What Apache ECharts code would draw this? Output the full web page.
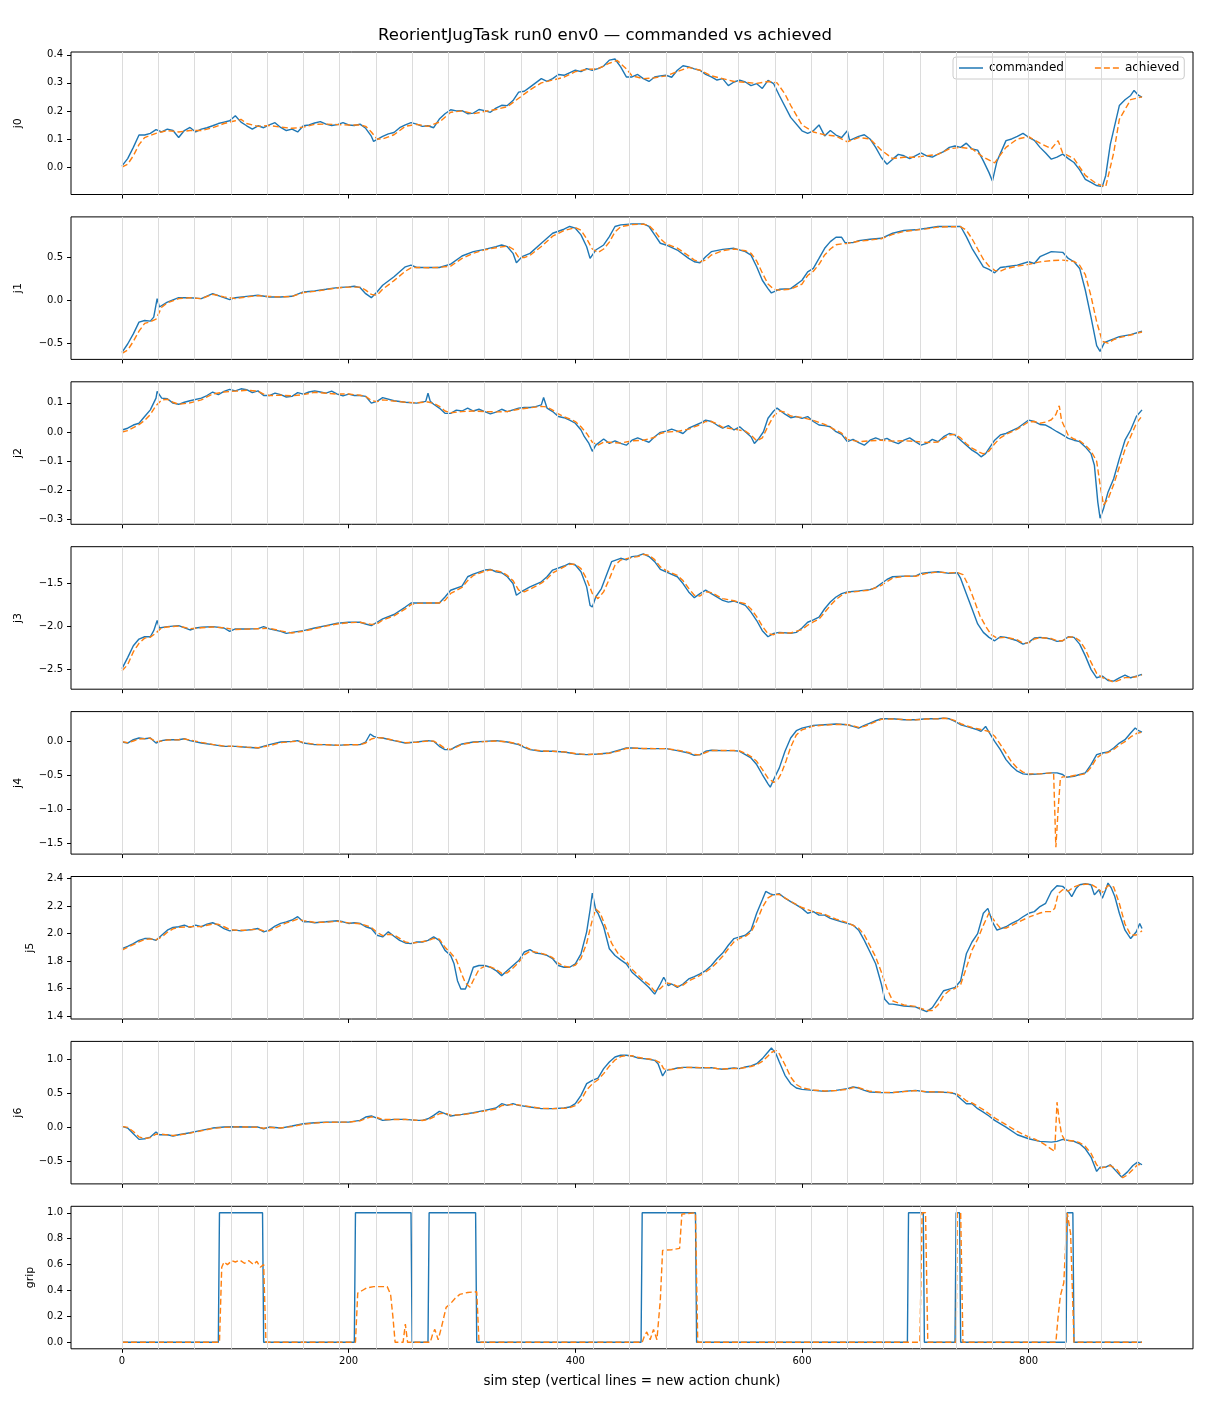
<!DOCTYPE html>
<html>
<head>
<meta charset="utf-8">
<script src="https://cdn.jsdelivr.net/npm/echarts@6/dist/echarts.min.js"></script>
<style>
html, body { margin: 0; padding: 0; background: #fff; }
#chart { width: 1210px; height: 1408px; }
</style>
</head>
<body>
<div id="chart"></div>
<script>
// 数据: [sim step, value]
var xTicks = [0, 200, 400, 600, 800];
// new action chunk starts
var chunkStarts = [0, 32, 64, 96, 128, 160, 192, 224, 256, 288, 320, 352, 384, 416, 448, 480, 512, 544, 576, 608, 640, 672, 704, 736, 768, 800, 832, 864, 896];

var j0Ticks = [-0.1, 0.0, 0.1, 0.2, 0.3, 0.4];
var j1Ticks = [-0.5, 0.0, 0.5];
var j2Ticks = [-0.3, -0.2, -0.1, 0.0, 0.1];
var j3Ticks = [-2.5, -2.0, -1.5];
var j4Ticks = [-1.5, -1.0, -0.5, 0.0];
var j5Ticks = [1.4, 1.6, 1.8, 2.0, 2.2, 2.4];
var j6Ticks = [-0.5, 0.0, 0.5, 1.0];
var gripTicks = [0.0, 0.2, 0.4, 0.6, 0.8, 1.0];

var j0Cmd = [[0,0.004],[5,0.03],[10,0.07],[15,0.114],[20,0.114],[25,0.12],[30,0.133],[35,0.125],[40,0.135],[45,0.13],[50,0.105],[55,0.13],[60,0.141],[65,0.125],[70,0.135],[75,0.14],[80,0.147],[85,0.155],[90,0.16],[95,0.165],[100,0.183],[105,0.16],[110,0.147],[115,0.135],[120,0.147],[125,0.14],[130,0.15],[135,0.158],[140,0.141],[145,0.13],[150,0.135],[155,0.125],[160,0.147],[165,0.15],[170,0.157],[175,0.162],[180,0.153],[185,0.148],[190,0.151],[195,0.158],[200,0.15],[205,0.148],[210,0.153],[215,0.138],[220,0.11],[222,0.091],[230,0.109],[235,0.118],[240,0.123],[245,0.14],[250,0.15],[255,0.158],[260,0.153],[265,0.145],[270,0.147],[275,0.14],[280,0.171],[285,0.19],[290,0.204],[295,0.2],[300,0.201],[305,0.19],[310,0.192],[315,0.205],[320,0.201],[325,0.195],[330,0.21],[335,0.22],[340,0.219],[345,0.237],[350,0.267],[355,0.27],[360,0.285],[370,0.315],[375,0.305],[380,0.315],[385,0.33],[390,0.327],[400,0.345],[405,0.34],[410,0.351],[415,0.345],[420,0.351],[425,0.36],[430,0.381],[435,0.385],[440,0.357],[445,0.321],[450,0.321],[455,0.33],[460,0.315],[465,0.305],[470,0.321],[475,0.325],[480,0.327],[485,0.32],[490,0.345],[495,0.361],[500,0.357],[505,0.35],[510,0.345],[515,0.33],[520,0.321],[525,0.31],[530,0.315],[535,0.29],[540,0.303],[545,0.31],[550,0.303],[555,0.29],[560,0.297],[565,0.28],[570,0.309],[575,0.297],[580,0.255],[590,0.177],[600,0.129],[605,0.12],[610,0.129],[615,0.15],[620,0.111],[625,0.13],[630,0.114],[635,0.105],[640,0.129],[642,0.095],[650,0.109],[655,0.115],[660,0.1],[665,0.07],[670,0.034],[675,0.01],[680,0.028],[685,0.045],[690,0.04],[695,0.03],[700,0.04],[705,0.05],[710,0.04],[715,0.035],[720,0.046],[725,0.055],[730,0.07],[735,0.075],[740,0.07],[745,0.085],[750,0.064],[755,0.06],[760,0.022],[765,-0.02],[768,-0.05],[772,0.02],[780,0.094],[785,0.1],[790,0.109],[795,0.12],[800,0.106],[805,0.095],[810,0.07],[815,0.05],[820,0.028],[825,0.035],[830,0.046],[835,0.03],[840,0.016],[845,-0.01],[850,-0.044],[855,-0.055],[860,-0.066],[865,-0.07],[868,-0.03],[872,0.08],[880,0.219],[885,0.24],[890,0.255],[893,0.273],[897,0.255],[900,0.249]];
var j0Ach = [[0,0.0],[5,0.01],[10,0.04],[15,0.08],[20,0.105],[30,0.12],[40,0.13],[50,0.125],[60,0.13],[70,0.13],[80,0.14],[90,0.155],[100,0.165],[105,0.17],[110,0.155],[120,0.145],[130,0.148],[140,0.142],[150,0.138],[160,0.142],[170,0.152],[180,0.153],[190,0.151],[200,0.15],[210,0.15],[215,0.145],[220,0.125],[225,0.1],[230,0.1],[240,0.115],[250,0.145],[260,0.152],[270,0.145],[280,0.16],[290,0.195],[300,0.2],[310,0.19],[320,0.198],[330,0.205],[340,0.215],[350,0.245],[360,0.275],[370,0.3],[380,0.31],[390,0.32],[400,0.34],[410,0.348],[420,0.35],[430,0.37],[437,0.38],[445,0.35],[450,0.325],[460,0.315],[470,0.318],[480,0.325],[490,0.34],[500,0.355],[510,0.345],[520,0.325],[530,0.315],[540,0.305],[550,0.302],[560,0.298],[570,0.305],[578,0.3],[585,0.26],[590,0.22],[600,0.15],[610,0.125],[620,0.115],[630,0.11],[640,0.09],[650,0.105],[660,0.1],[670,0.06],[680,0.03],[690,0.035],[700,0.035],[710,0.04],[720,0.045],[730,0.065],[740,0.07],[750,0.065],[760,0.035],[770,0.015],[780,0.07],[790,0.1],[800,0.108],[810,0.085],[820,0.065],[826,0.094],[830,0.05],[840,0.03],[850,-0.03],[860,-0.06],[868,-0.07],[875,0.05],[880,0.17],[890,0.24],[900,0.25]];

var j1Cmd = [[0,-0.608],[5,-0.51],[10,-0.392],[15,-0.255],[20,-0.235],[25,-0.243],[28,-0.196],[31,0.02],[33,-0.078],[40,-0.02],[50,0.031],[60,0.031],[70,0.02],[80,0.078],[90,0.031],[95,0.008],[100,0.031],[110,0.047],[120,0.059],[130,0.039],[140,0.039],[150,0.047],[160,0.098],[170,0.11],[180,0.129],[190,0.149],[200,0.157],[205,0.165],[210,0.149],[215,0.078],[220,0.031],[225,0.098],[230,0.176],[240,0.275],[250,0.392],[255,0.412],[260,0.384],[270,0.384],[280,0.384],[290,0.424],[300,0.518],[310,0.569],[320,0.596],[330,0.627],[335,0.647],[340,0.627],[345,0.549],[348,0.439],[353,0.51],[360,0.549],[370,0.667],[380,0.784],[390,0.831],[395,0.863],[400,0.843],[405,0.765],[410,0.627],[413,0.49],[418,0.588],[425,0.647],[430,0.745],[435,0.863],[440,0.882],[450,0.894],[460,0.894],[465,0.863],[470,0.765],[475,0.667],[480,0.647],[490,0.588],[500,0.49],[505,0.451],[510,0.439],[515,0.51],[520,0.569],[530,0.596],[540,0.608],[550,0.569],[555,0.529],[560,0.392],[565,0.235],[570,0.137],[573,0.086],[580,0.129],[590,0.137],[600,0.235],[605,0.333],[610,0.373],[615,0.49],[620,0.608],[625,0.686],[630,0.737],[635,0.737],[638,0.675],[645,0.675],[650,0.698],[660,0.714],[670,0.725],[680,0.784],[690,0.816],[700,0.824],[710,0.843],[720,0.863],[730,0.863],[740,0.863],[745,0.745],[750,0.608],[760,0.392],[765,0.361],[770,0.322],[775,0.384],[780,0.392],[790,0.412],[800,0.451],[805,0.431],[810,0.51],[820,0.569],[830,0.561],[835,0.49],[840,0.451],[845,0.373],[850,0.118],[855,-0.196],[860,-0.529],[863,-0.596],[867,-0.49],[875,-0.451],[880,-0.424],[890,-0.4],[900,-0.361]];
var j1Ach = [[0,-0.62],[5,-0.58],[10,-0.48],[15,-0.36],[20,-0.27],[25,-0.25],[30,-0.22],[35,-0.08],[40,-0.03],[50,0.02],[60,0.03],[70,0.02],[80,0.07],[90,0.04],[100,0.02],[110,0.04],[120,0.055],[130,0.045],[140,0.04],[150,0.045],[160,0.09],[170,0.105],[180,0.125],[190,0.145],[200,0.155],[210,0.155],[215,0.12],[220,0.07],[225,0.06],[230,0.13],[240,0.23],[250,0.34],[255,0.38],[260,0.385],[270,0.38],[280,0.385],[290,0.4],[300,0.49],[310,0.55],[320,0.59],[330,0.615],[340,0.635],[345,0.6],[350,0.5],[355,0.5],[360,0.525],[370,0.63],[380,0.75],[390,0.815],[400,0.85],[405,0.82],[410,0.72],[415,0.6],[420,0.56],[425,0.6],[430,0.68],[435,0.8],[440,0.86],[450,0.885],[460,0.89],[465,0.875],[470,0.81],[475,0.72],[480,0.66],[490,0.61],[500,0.52],[505,0.47],[510,0.45],[515,0.47],[520,0.53],[530,0.58],[540,0.6],[550,0.58],[555,0.55],[560,0.46],[565,0.32],[570,0.19],[575,0.13],[580,0.12],[590,0.13],[600,0.19],[605,0.29],[610,0.34],[615,0.42],[620,0.53],[625,0.6],[630,0.65],[635,0.66],[640,0.665],[650,0.69],[660,0.705],[670,0.72],[680,0.77],[690,0.805],[700,0.82],[710,0.835],[720,0.855],[730,0.86],[740,0.86],[745,0.82],[750,0.72],[755,0.6],[760,0.48],[765,0.4],[770,0.35],[775,0.34],[780,0.37],[790,0.4],[800,0.42],[810,0.45],[820,0.465],[830,0.47],[840,0.455],[845,0.41],[850,0.3],[855,0.05],[860,-0.25],[865,-0.48],[870,-0.5],[875,-0.46],[880,-0.435],[890,-0.405],[900,-0.37]];

var j2Cmd = [[0,0.007],[5,0.013],[10,0.024],[15,0.03],[20,0.053],[25,0.076],[30,0.116],[31,0.139],[35,0.116],[40,0.114],[45,0.099],[50,0.095],[55,0.102],[60,0.107],[70,0.116],[75,0.125],[80,0.137],[85,0.128],[90,0.139],[95,0.146],[100,0.141],[105,0.148],[110,0.145],[115,0.135],[120,0.141],[125,0.125],[130,0.125],[135,0.133],[140,0.128],[145,0.12],[150,0.122],[155,0.135],[160,0.13],[165,0.137],[170,0.141],[175,0.137],[180,0.133],[185,0.14],[190,0.13],[195,0.124],[200,0.13],[205,0.125],[210,0.125],[215,0.122],[220,0.099],[225,0.105],[230,0.118],[240,0.107],[250,0.102],[260,0.099],[268,0.105],[270,0.133],[272,0.105],[275,0.095],[280,0.082],[285,0.064],[290,0.064],[295,0.075],[300,0.072],[305,0.082],[310,0.072],[315,0.078],[320,0.07],[325,0.062],[330,0.068],[335,0.078],[340,0.07],[345,0.076],[350,0.082],[355,0.084],[360,0.084],[365,0.087],[370,0.093],[372,0.118],[375,0.082],[380,0.07],[385,0.053],[390,0.049],[395,0.041],[400,0.03],[405,0.007],[408,-0.016],[412,-0.039],[415,-0.066],[418,-0.045],[425,-0.024],[430,-0.039],[435,-0.03],[440,-0.039],[445,-0.045],[450,-0.028],[455,-0.02],[460,-0.028],[465,-0.035],[470,-0.016],[475,-0.001],[480,0.003],[485,0.01],[490,0.003],[495,-0.005],[500,0.013],[510,0.03],[515,0.041],[520,0.036],[525,0.024],[530,0.013],[535,0.022],[540,0.007],[545,0.018],[550,0.001],[555,-0.016],[558,-0.039],[562,-0.022],[566,0.001],[570,0.047],[575,0.072],[578,0.082],[585,0.061],[590,0.049],[595,0.053],[600,0.047],[605,0.053],[610,0.036],[615,0.024],[620,0.022],[625,0.018],[630,0.001],[635,-0.008],[640,-0.033],[645,-0.025],[650,-0.036],[655,-0.045],[660,-0.028],[665,-0.02],[670,-0.028],[675,-0.022],[680,-0.033],[685,-0.04],[690,-0.028],[695,-0.02],[700,-0.033],[705,-0.045],[710,-0.039],[715,-0.025],[720,-0.033],[725,-0.016],[730,-0.005],[735,-0.01],[740,-0.028],[745,-0.045],[750,-0.062],[755,-0.074],[758,-0.085],[762,-0.074],[770,-0.028],[775,-0.01],[780,-0.005],[790,0.013],[800,0.041],[805,0.036],[810,0.026],[815,0.024],[820,0.013],[825,0.001],[830,-0.01],[835,-0.022],[840,-0.028],[845,-0.033],[850,-0.051],[855,-0.074],[858,-0.114],[861,-0.24],[863,-0.295],[866,-0.263],[870,-0.206],[875,-0.16],[880,-0.091],[885,-0.028],[890,0.007],[895,0.053],[900,0.076]];
var j2Ach = [[0,0.0],[5,0.005],[10,0.015],[15,0.025],[20,0.04],[25,0.06],[30,0.09],[35,0.11],[40,0.112],[45,0.102],[50,0.095],[60,0.1],[70,0.11],[80,0.13],[90,0.137],[100,0.14],[110,0.143],[120,0.14],[125,0.13],[130,0.125],[140,0.126],[150,0.124],[160,0.128],[170,0.136],[180,0.133],[190,0.13],[200,0.13],[210,0.126],[215,0.122],[220,0.108],[225,0.104],[230,0.11],[240,0.106],[250,0.102],[260,0.1],[270,0.103],[275,0.098],[280,0.088],[285,0.072],[290,0.066],[300,0.07],[310,0.072],[320,0.07],[330,0.069],[340,0.07],[350,0.078],[360,0.083],[370,0.088],[375,0.086],[380,0.075],[385,0.062],[390,0.052],[395,0.045],[400,0.036],[405,0.018],[410,-0.005],[415,-0.035],[420,-0.045],[425,-0.035],[430,-0.035],[440,-0.038],[450,-0.03],[460,-0.028],[470,-0.018],[475,-0.005],[480,0.0],[490,0.002],[500,0.01],[510,0.025],[515,0.036],[520,0.036],[525,0.028],[530,0.016],[540,0.01],[550,0.003],[555,-0.01],[560,-0.03],[565,-0.02],[570,0.02],[575,0.055],[580,0.072],[585,0.068],[590,0.055],[600,0.05],[610,0.04],[620,0.026],[630,0.006],[635,-0.004],[640,-0.025],[650,-0.033],[660,-0.03],[670,-0.028],[680,-0.031],[690,-0.03],[700,-0.032],[710,-0.036],[720,-0.034],[725,-0.022],[730,-0.01],[735,-0.008],[740,-0.02],[745,-0.04],[750,-0.055],[755,-0.066],[760,-0.075],[765,-0.065],[770,-0.04],[775,-0.02],[780,-0.008],[790,0.01],[800,0.035],[805,0.036],[810,0.03],[815,0.034],[820,0.042],[824,0.06],[827,0.09],[829,0.04],[835,-0.012],[840,-0.024],[845,-0.03],[850,-0.045],[855,-0.065],[860,-0.1],[863,-0.18],[866,-0.25],[870,-0.23],[875,-0.18],[880,-0.12],[885,-0.06],[890,-0.015],[895,0.03],[900,0.055]];

var j3Cmd = [[0,-2.496],[5,-2.367],[10,-2.229],[15,-2.151],[20,-2.124],[25,-2.124],[28,-2.053],[31,-1.935],[33,-2.022],[40,-2.006],[50,-1.994],[60,-2.045],[65,-2.022],[70,-2.014],[80,-2.006],[90,-2.022],[95,-2.061],[100,-2.033],[110,-2.033],[120,-2.029],[125,-2.006],[130,-2.033],[140,-2.061],[145,-2.084],[150,-2.073],[160,-2.053],[170,-2.022],[180,-1.994],[190,-1.967],[200,-1.955],[210,-1.955],[215,-1.975],[220,-1.994],[225,-1.955],[230,-1.916],[240,-1.865],[250,-1.778],[255,-1.731],[260,-1.731],[270,-1.731],[280,-1.731],[285,-1.661],[290,-1.582],[300,-1.535],[305,-1.425],[310,-1.394],[320,-1.347],[325,-1.339],[330,-1.367],[335,-1.378],[340,-1.425],[345,-1.504],[348,-1.641],[352,-1.602],[360,-1.543],[370,-1.484],[375,-1.425],[380,-1.347],[390,-1.3],[395,-1.269],[400,-1.288],[405,-1.367],[410,-1.543],[413,-1.759],[415,-1.778],[418,-1.661],[423,-1.563],[428,-1.386],[432,-1.249],[440,-1.21],[445,-1.229],[450,-1.19],[455,-1.182],[460,-1.159],[465,-1.19],[470,-1.249],[475,-1.339],[480,-1.367],[490,-1.425],[495,-1.504],[500,-1.602],[505,-1.669],[510,-1.622],[515,-1.582],[520,-1.622],[530,-1.7],[535,-1.72],[540,-1.708],[545,-1.731],[550,-1.759],[555,-1.837],[560,-1.935],[565,-2.053],[570,-2.124],[575,-2.084],[580,-2.073],[590,-2.084],[595,-2.073],[600,-2.022],[605,-1.955],[610,-1.927],[615,-1.896],[620,-1.798],[625,-1.72],[630,-1.661],[635,-1.622],[640,-1.602],[650,-1.59],[660,-1.575],[665,-1.551],[670,-1.504],[675,-1.457],[680,-1.425],[690,-1.418],[700,-1.418],[705,-1.386],[710,-1.378],[720,-1.367],[730,-1.386],[737,-1.378],[740,-1.445],[745,-1.622],[750,-1.798],[755,-1.975],[760,-2.073],[765,-2.131],[770,-2.171],[775,-2.124],[780,-2.131],[790,-2.171],[795,-2.21],[800,-2.19],[805,-2.139],[810,-2.131],[815,-2.139],[820,-2.151],[825,-2.178],[830,-2.171],[835,-2.124],[840,-2.131],[845,-2.21],[850,-2.347],[855,-2.504],[860,-2.602],[865,-2.582],[870,-2.633],[875,-2.641],[880,-2.602],[885,-2.571],[890,-2.602],[895,-2.582],[900,-2.563]];
var j3Ach = [[0,-2.52],[5,-2.45],[10,-2.3],[15,-2.2],[20,-2.14],[25,-2.13],[30,-2.08],[35,-2.02],[40,-2.01],[50,-2.0],[60,-2.03],[70,-2.02],[80,-2.01],[90,-2.02],[100,-2.04],[110,-2.035],[120,-2.03],[130,-2.025],[140,-2.055],[150,-2.08],[160,-2.06],[170,-2.03],[180,-2.0],[190,-1.975],[200,-1.96],[210,-1.955],[220,-1.98],[225,-1.975],[230,-1.93],[240,-1.88],[250,-1.8],[255,-1.75],[260,-1.735],[270,-1.73],[280,-1.73],[285,-1.7],[290,-1.62],[300,-1.55],[305,-1.47],[310,-1.41],[320,-1.36],[325,-1.345],[330,-1.355],[335,-1.37],[340,-1.41],[345,-1.47],[350,-1.58],[355,-1.6],[360,-1.57],[370,-1.5],[375,-1.45],[380,-1.38],[390,-1.31],[395,-1.28],[400,-1.28],[405,-1.33],[410,-1.45],[415,-1.62],[420,-1.68],[425,-1.6],[430,-1.45],[435,-1.29],[440,-1.23],[450,-1.2],[455,-1.19],[460,-1.165],[465,-1.175],[470,-1.225],[475,-1.31],[480,-1.35],[490,-1.41],[495,-1.47],[500,-1.56],[505,-1.64],[510,-1.65],[515,-1.6],[520,-1.61],[530,-1.68],[540,-1.705],[550,-1.74],[555,-1.8],[560,-1.89],[565,-2.0],[570,-2.09],[575,-2.1],[580,-2.08],[590,-2.08],[600,-2.04],[605,-1.99],[610,-1.95],[615,-1.92],[620,-1.84],[625,-1.76],[630,-1.69],[635,-1.64],[640,-1.61],[650,-1.595],[660,-1.58],[670,-1.525],[680,-1.44],[690,-1.42],[700,-1.42],[710,-1.385],[720,-1.37],[730,-1.38],[737,-1.375],[742,-1.4],[747,-1.53],[752,-1.7],[757,-1.88],[762,-2.0],[767,-2.1],[772,-2.14],[780,-2.13],[790,-2.16],[795,-2.2],[800,-2.195],[805,-2.15],[810,-2.135],[820,-2.145],[825,-2.17],[830,-2.17],[835,-2.13],[840,-2.125],[845,-2.17],[850,-2.27],[855,-2.42],[860,-2.55],[865,-2.6],[870,-2.62],[875,-2.655],[880,-2.63],[885,-2.6],[890,-2.6],[895,-2.59],[900,-2.57]];

var j4Cmd = [[0,-0.005],[5,-0.02],[10,0.029],[15,0.054],[20,0.044],[25,0.054],[30,-0.02],[35,0.015],[40,0.029],[50,0.029],[55,0.044],[60,0.015],[70,-0.02],[80,-0.044],[90,-0.069],[100,-0.069],[110,-0.083],[120,-0.093],[130,-0.044],[140,-0.005],[150,0.005],[155,0.015],[160,-0.02],[170,-0.044],[180,-0.044],[190,-0.054],[200,-0.044],[210,-0.044],[215,-0.005],[219,0.113],[222,0.078],[225,0.064],[230,0.054],[240,0.015],[250,-0.02],[260,-0.005],[270,0.015],[275,0.005],[280,-0.069],[285,-0.118],[290,-0.118],[295,-0.069],[300,-0.034],[310,-0.005],[320,0.005],[330,0.015],[340,-0.005],[350,-0.044],[355,-0.083],[360,-0.118],[370,-0.142],[380,-0.142],[390,-0.152],[400,-0.181],[410,-0.191],[420,-0.181],[430,-0.167],[440,-0.118],[445,-0.093],[450,-0.093],[460,-0.103],[470,-0.103],[480,-0.103],[490,-0.132],[500,-0.167],[505,-0.201],[510,-0.191],[515,-0.142],[520,-0.127],[530,-0.132],[540,-0.132],[545,-0.142],[550,-0.191],[555,-0.24],[560,-0.338],[565,-0.485],[570,-0.623],[572,-0.672],[575,-0.559],[580,-0.387],[585,-0.142],[590,0.054],[595,0.162],[600,0.201],[610,0.24],[620,0.25],[630,0.26],[640,0.25],[645,0.225],[650,0.201],[655,0.24],[660,0.275],[665,0.309],[670,0.338],[680,0.338],[690,0.324],[700,0.324],[710,0.338],[720,0.338],[725,0.348],[730,0.338],[735,0.299],[740,0.25],[745,0.225],[750,0.201],[755,0.176],[758,0.152],[762,0.225],[765,0.142],[770,0.005],[775,-0.118],[780,-0.265],[785,-0.363],[790,-0.436],[795,-0.475],[800,-0.485],[810,-0.475],[820,-0.461],[825,-0.461],[830,-0.485],[833,-0.525],[840,-0.51],[845,-0.485],[850,-0.461],[855,-0.338],[860,-0.191],[865,-0.167],[870,-0.152],[875,-0.093],[880,-0.02],[885,0.029],[890,0.127],[894,0.201],[897,0.162],[900,0.142]];
var j4Ach = [[0,0.0],[5,-0.015],[10,0.01],[15,0.04],[20,0.045],[25,0.05],[30,0.0],[35,0.01],[40,0.025],[50,0.028],[55,0.04],[60,0.025],[70,-0.01],[80,-0.04],[90,-0.065],[100,-0.068],[110,-0.08],[120,-0.09],[130,-0.06],[140,-0.015],[150,0.0],[155,0.01],[160,-0.01],[170,-0.04],[180,-0.045],[190,-0.052],[200,-0.046],[210,-0.045],[215,-0.02],[220,0.04],[225,0.06],[230,0.055],[240,0.02],[250,-0.015],[260,-0.008],[270,0.01],[275,0.008],[280,-0.04],[285,-0.1],[290,-0.115],[295,-0.08],[300,-0.04],[310,-0.01],[320,0.0],[330,0.01],[340,-0.002],[350,-0.035],[355,-0.07],[360,-0.11],[370,-0.138],[380,-0.142],[390,-0.15],[400,-0.175],[410,-0.19],[420,-0.183],[430,-0.17],[440,-0.13],[445,-0.1],[450,-0.095],[460,-0.1],[470,-0.102],[480,-0.103],[490,-0.125],[500,-0.16],[505,-0.19],[510,-0.195],[515,-0.16],[520,-0.13],[530,-0.13],[540,-0.131],[545,-0.138],[550,-0.17],[555,-0.22],[560,-0.29],[565,-0.41],[570,-0.54],[575,-0.6],[578,-0.58],[582,-0.46],[586,-0.28],[590,-0.08],[595,0.1],[600,0.175],[610,0.23],[620,0.245],[630,0.255],[640,0.252],[645,0.235],[650,0.21],[655,0.225],[660,0.26],[665,0.295],[670,0.33],[680,0.336],[690,0.326],[700,0.322],[710,0.335],[720,0.338],[725,0.346],[730,0.34],[735,0.31],[740,0.265],[745,0.235],[750,0.21],[755,0.19],[760,0.17],[765,0.15],[770,0.08],[775,-0.04],[780,-0.17],[785,-0.3],[790,-0.39],[795,-0.45],[800,-0.475],[810,-0.475],[820,-0.46],[822,-0.46],[824,-1.56],[826,-1.0],[828,-0.54],[830,-0.52],[835,-0.52],[840,-0.5],[845,-0.49],[850,-0.475],[855,-0.38],[860,-0.24],[865,-0.18],[870,-0.16],[875,-0.115],[880,-0.05],[885,0.0],[890,0.07],[895,0.12],[900,0.14]];

var j5Cmd = [[0,1.89],[5,1.907],[10,1.927],[15,1.951],[20,1.964],[25,1.964],[30,1.951],[35,1.988],[40,2.025],[45,2.045],[50,2.05],[55,2.062],[60,2.045],[65,2.062],[70,2.05],[75,2.069],[80,2.079],[85,2.062],[90,2.037],[95,2.02],[100,2.025],[105,2.02],[110,2.025],[115,2.03],[120,2.037],[125,2.013],[130,2.025],[135,2.054],[140,2.074],[145,2.086],[150,2.099],[155,2.123],[160,2.086],[165,2.086],[170,2.079],[180,2.086],[190,2.094],[195,2.086],[200,2.074],[205,2.079],[210,2.074],[215,2.05],[220,2.037],[225,1.988],[230,1.976],[235,2.013],[240,1.981],[245,1.951],[250,1.932],[255,1.927],[260,1.939],[265,1.939],[270,1.951],[275,1.976],[280,1.951],[285,1.878],[290,1.841],[293,1.78],[296,1.657],[299,1.596],[303,1.596],[306,1.657],[310,1.755],[315,1.768],[320,1.768],[325,1.755],[330,1.731],[335,1.694],[340,1.731],[345,1.768],[350,1.804],[355,1.866],[360,1.883],[365,1.858],[370,1.853],[375,1.841],[380,1.817],[385,1.768],[390,1.755],[395,1.755],[400,1.78],[405,1.853],[410,2.013],[413,2.172],[415,2.295],[418,2.172],[420,2.148],[425,2.05],[430,1.89],[435,1.841],[440,1.809],[445,1.78],[450,1.719],[455,1.682],[460,1.645],[465,1.608],[470,1.559],[475,1.633],[478,1.682],[482,1.621],[485,1.633],[490,1.608],[495,1.633],[500,1.67],[505,1.687],[510,1.706],[515,1.731],[520,1.768],[525,1.817],[530,1.858],[535,1.915],[540,1.964],[545,1.976],[550,1.988],[555,2.025],[560,2.148],[565,2.246],[568,2.307],[572,2.29],[575,2.282],[580,2.29],[585,2.258],[590,2.233],[595,2.209],[600,2.184],[605,2.148],[610,2.16],[615,2.135],[620,2.135],[625,2.111],[630,2.099],[635,2.086],[640,2.074],[645,2.062],[650,2.025],[655,1.951],[660,1.866],[665,1.78],[670,1.633],[673,1.522],[677,1.486],[680,1.486],[690,1.473],[700,1.466],[705,1.449],[710,1.432],[715,1.461],[720,1.522],[725,1.584],[730,1.596],[735,1.608],[740,1.657],[745,1.853],[750,1.939],[755,2.0],[760,2.148],[764,2.184],[768,2.086],[772,2.025],[780,2.05],[785,2.074],[790,2.094],[795,2.123],[800,2.148],[805,2.16],[810,2.197],[815,2.221],[820,2.307],[825,2.349],[830,2.344],[835,2.307],[838,2.27],[842,2.331],[845,2.356],[850,2.363],[855,2.356],[858,2.282],[862,2.319],[865,2.258],[868,2.319],[870,2.368],[873,2.331],[876,2.27],[880,2.148],[885,2.025],[890,1.964],[895,2.013],[898,2.074],[900,2.037]];
var j5Ach = [[0,1.88],[5,1.9],[10,1.92],[15,1.94],[20,1.958],[25,1.962],[30,1.955],[35,1.975],[40,2.01],[45,2.035],[50,2.045],[60,2.05],[70,2.052],[80,2.07],[85,2.068],[90,2.05],[95,2.03],[100,2.025],[110,2.025],[120,2.033],[125,2.02],[130,2.02],[135,2.04],[140,2.06],[145,2.078],[150,2.09],[155,2.105],[160,2.095],[170,2.082],[180,2.083],[190,2.09],[200,2.078],[210,2.072],[215,2.06],[220,2.045],[225,2.01],[230,1.985],[235,1.995],[240,1.99],[245,1.965],[250,1.94],[255,1.93],[260,1.935],[270,1.948],[275,1.965],[280,1.96],[285,1.9],[290,1.86],[295,1.81],[300,1.7],[303,1.64],[307,1.61],[310,1.66],[315,1.74],[320,1.762],[325,1.758],[330,1.74],[335,1.71],[340,1.715],[345,1.75],[350,1.79],[355,1.845],[360,1.872],[365,1.865],[370,1.856],[375,1.845],[380,1.825],[385,1.785],[390,1.762],[395,1.755],[400,1.77],[405,1.82],[410,1.93],[415,2.1],[418,2.18],[422,2.15],[428,2.02],[432,1.93],[438,1.85],[445,1.8],[450,1.74],[455,1.7],[460,1.66],[465,1.63],[470,1.58],[475,1.6],[480,1.64],[485,1.635],[490,1.615],[495,1.625],[500,1.655],[510,1.695],[515,1.72],[520,1.75],[525,1.79],[530,1.835],[535,1.89],[540,1.94],[545,1.965],[550,1.98],[555,2.01],[560,2.09],[565,2.19],[570,2.26],[575,2.285],[580,2.285],[590,2.235],[600,2.19],[610,2.16],[620,2.14],[630,2.105],[640,2.08],[650,2.04],[655,1.99],[660,1.91],[665,1.83],[670,1.72],[675,1.6],[680,1.51],[690,1.48],[700,1.47],[705,1.455],[710,1.44],[715,1.44],[720,1.48],[725,1.55],[730,1.585],[735,1.6],[740,1.63],[745,1.75],[750,1.88],[755,1.96],[760,2.06],[765,2.15],[770,2.09],[775,2.04],[780,2.04],[790,2.08],[800,2.12],[810,2.15],[815,2.16],[820,2.16],[823,2.184],[826,2.29],[830,2.32],[835,2.31],[840,2.34],[845,2.355],[850,2.36],[855,2.36],[860,2.335],[865,2.3],[870,2.35],[875,2.34],[880,2.22],[885,2.07],[890,1.99],[895,1.99],[900,2.02]];

var j6Cmd = [[0,0.015],[5,-0.01],[10,-0.093],[15,-0.176],[20,-0.167],[25,-0.142],[30,-0.069],[33,-0.108],[40,-0.108],[45,-0.127],[50,-0.108],[60,-0.078],[70,-0.044],[80,-0.01],[90,0.005],[100,0.01],[110,0.005],[120,0.005],[125,-0.02],[130,0.005],[140,-0.01],[150,0.02],[160,0.054],[170,0.069],[180,0.078],[190,0.078],[200,0.078],[210,0.103],[215,0.152],[220,0.167],[225,0.137],[230,0.103],[240,0.118],[250,0.118],[260,0.103],[265,0.103],[270,0.127],[275,0.176],[280,0.235],[285,0.201],[290,0.167],[300,0.191],[310,0.216],[320,0.25],[330,0.284],[335,0.348],[340,0.324],[345,0.348],[350,0.324],[360,0.299],[370,0.275],[380,0.275],[390,0.284],[395,0.299],[400,0.348],[405,0.471],[410,0.642],[415,0.691],[420,0.725],[425,0.863],[430,0.961],[435,1.034],[440,1.059],[445,1.059],[450,1.049],[455,1.02],[460,1.01],[465,1.0],[470,0.985],[473,0.936],[477,0.755],[480,0.838],[485,0.853],[490,0.873],[495,0.882],[500,0.882],[510,0.877],[520,0.877],[525,0.863],[530,0.853],[540,0.873],[545,0.863],[550,0.887],[555,0.902],[560,0.936],[565,1.01],[570,1.108],[573,1.167],[577,1.083],[580,0.961],[585,0.765],[590,0.642],[595,0.578],[600,0.559],[610,0.544],[620,0.529],[630,0.544],[640,0.569],[645,0.593],[650,0.578],[655,0.544],[660,0.52],[670,0.51],[680,0.51],[690,0.529],[700,0.544],[710,0.52],[720,0.52],[730,0.51],[735,0.495],[740,0.422],[745,0.348],[750,0.348],[755,0.275],[760,0.225],[765,0.167],[770,0.103],[780,0.005],[790,-0.108],[800,-0.167],[810,-0.206],[820,-0.216],[825,-0.206],[830,-0.176],[840,-0.206],[845,-0.24],[850,-0.314],[855,-0.436],[860,-0.647],[863,-0.583],[868,-0.583],[872,-0.549],[878,-0.657],[882,-0.73],[887,-0.657],[892,-0.559],[896,-0.51],[900,-0.549]];
var j6Ach = [[0,0.015],[5,0.0],[10,-0.06],[15,-0.14],[20,-0.165],[25,-0.15],[30,-0.1],[35,-0.1],[40,-0.11],[45,-0.12],[50,-0.112],[60,-0.085],[70,-0.05],[80,-0.015],[90,0.0],[100,0.008],[110,0.005],[120,0.003],[125,-0.012],[130,-0.002],[140,-0.008],[150,0.012],[160,0.045],[170,0.063],[180,0.073],[190,0.077],[200,0.077],[210,0.095],[215,0.13],[220,0.155],[225,0.145],[230,0.115],[240,0.115],[250,0.117],[260,0.105],[265,0.102],[270,0.115],[275,0.15],[280,0.2],[285,0.21],[290,0.18],[300,0.185],[310,0.21],[320,0.24],[330,0.27],[335,0.32],[340,0.33],[345,0.335],[350,0.33],[360,0.305],[370,0.28],[380,0.275],[390,0.28],[395,0.29],[400,0.32],[405,0.4],[410,0.55],[415,0.64],[420,0.7],[425,0.79],[430,0.9],[435,0.99],[440,1.04],[445,1.055],[450,1.052],[455,1.03],[460,1.015],[465,1.005],[470,0.99],[475,0.95],[478,0.86],[482,0.85],[485,0.85],[490,0.865],[495,0.877],[500,0.882],[510,0.878],[520,0.877],[525,0.865],[530,0.857],[540,0.866],[545,0.865],[550,0.88],[555,0.895],[560,0.92],[565,0.97],[570,1.05],[573,1.1],[577,1.13],[580,1.08],[585,0.92],[590,0.74],[595,0.63],[600,0.58],[610,0.55],[620,0.535],[630,0.54],[640,0.56],[645,0.585],[650,0.585],[655,0.555],[660,0.53],[670,0.515],[680,0.512],[690,0.525],[700,0.54],[710,0.525],[720,0.52],[730,0.515],[735,0.505],[740,0.46],[745,0.39],[750,0.36],[755,0.31],[760,0.26],[765,0.2],[770,0.14],[780,0.04],[790,-0.06],[800,-0.14],[805,-0.17],[810,-0.21],[815,-0.26],[820,-0.32],[823,-0.353],[825,0.37],[827,0.1],[829,-0.1],[832,-0.19],[840,-0.2],[845,-0.225],[850,-0.28],[855,-0.38],[860,-0.55],[863,-0.6],[868,-0.58],[872,-0.56],[878,-0.62],[883,-0.74],[887,-0.7],[892,-0.62],[896,-0.55],[900,-0.54]];

var gripCmd = [[0,0],[85,0],[86,1],[124,1],[125,0],[205,0],[206,1],[255,1],[256,0],[270,0],[271,1],[312,1],[313,0],[458,0],[459,1],[506,1],[507,0],[693,0],[694,1],[707,1],[708,0],[735,0],[736,1],[739,1],[740,0],[833,0],[834,1],[839,1],[840,0],[900,0]];
var gripAch = [[0,0],[86,0],[88,0.58],[90,0.62],[93,0.6],[97,0.63],[100,0.62],[104,0.635],[108,0.61],[112,0.63],[116,0.6],[119,0.625],[122,0.58],[125,0.6],[127,0],[206,0],[208,0.38],[212,0.4],[216,0.42],[222,0.43],[228,0.43],[234,0.43],[237,0.37],[239,0.2],[241,0],[248,0],[250,0.14],[252,0],[272,0],[274,0.06],[276,0.1],[279,0.02],[282,0.12],[286,0.27],[290,0.3],[294,0.34],[298,0.37],[305,0.385],[313,0.39],[315,0],[459,0],[461,0.05],[463,0.08],[466,0.02],[469,0.1],[472,0.02],[475,0.33],[477,0.71],[485,0.715],[492,0.725],[494,0.99],[506,1],[508,0],[704,0],[706,1],[709,1],[711,0],[736,0],[737,1],[740,1],[742,0],[824,0],[826,0.2],[828,0.36],[831,0.46],[834,1],[837,0.84],[840,0],[900,0]];

var FONT = 'DejaVu Sans';
var chart = echarts.init(document.getElementById('chart'), null, { renderer: 'canvas' });

// 每个子图: 名称、数据、刻度、y轴范围、名称间距
var panels = [
	{ name: 'j0', cmd: j0Cmd, ach: j0Ach, ticks: j0Ticks, min: -0.098, max: 0.41, gap: 47 },
	{ name: 'j1', cmd: j1Cmd, ach: j1Ach, ticks: j1Ticks, min: -0.69, max: 0.975, gap: 47 },
	{ name: 'j2', cmd: j2Cmd, ach: j2Ach, ticks: j2Ticks, min: -0.316, max: 0.172, gap: 47 },
	{ name: 'j3', cmd: j3Cmd, ach: j3Ach, ticks: j3Ticks, min: -2.735, max: -1.075, gap: 47 },
	{ name: 'j4', cmd: j4Cmd, ach: j4Ach, ticks: j4Ticks, min: -1.66, max: 0.444, gap: 47 },
	{ name: 'j5', cmd: j5Cmd, ach: j5Ach, ticks: j5Ticks, min: 1.378, max: 2.416, gap: 35 },
	{ name: 'j6', cmd: j6Cmd, ach: j6Ach, ticks: j6Ticks, min: -0.83, max: 1.263, gap: 47 },
	{ name: 'grip', cmd: gripCmd, ach: gripAch, ticks: gripTicks, min: -0.05, max: 1.05, gap: 35 }
];

function fmt(v) {
	return v.toFixed(1).replace('-', '\u2212');
}

var grids = [], xAxes = [], yAxes = [], series = [];
var last = panels.length - 1;
panels.forEach(function(p, i) {
	grids.push({
		left: 71,
		right: 17,
		top: 52 + i * 164.9,
		height: 142.5,
		show: true,
		borderColor: '#000',
		borderWidth: 1,
		backgroundColor: 'transparent',
		outerBoundsMode: 'none'
	});
	xAxes.push({
		type: 'value',
		gridIndex: i,
		position: 'bottom',
		min: -45,
		max: 945,
		axisLine: { show: false, onZero: false },
		splitLine: { show: false },
		axisTick: { show: true, length: 4, customValues: xTicks, lineStyle: { color: '#000', width: 1 } },
		axisLabel: {
			show: i === last,
			customValues: xTicks,
			margin: 8,
			fontSize: 10,
			fontFamily: FONT,
			color: '#000'
		},
		name: i === last ? 'sim step (vertical lines = new action chunk)' : '',
		nameLocation: 'middle',
		nameGap: 26,
		nameTextStyle: { fontSize: 13.5, fontFamily: FONT, color: '#000' }
	});
	yAxes.push({
		type: 'value',
		gridIndex: i,
		position: 'left',
		min: p.min,
		max: p.max,
		axisLine: { show: false, onZero: false },
		splitLine: { show: false },
		axisTick: { show: true, length: 4, customValues: p.ticks, lineStyle: { color: '#000', width: 1 } },
		axisLabel: {
			customValues: p.ticks,
			formatter: fmt,
			margin: 8,
			fontSize: 10,
			fontFamily: FONT,
			color: '#000'
		},
		name: p.name,
		nameLocation: 'middle',
		nameRotate: 90,
		nameGap: p.gap,
		nameTextStyle: { fontSize: 11, fontFamily: FONT, color: '#000' }
	});
	// 动作块分界竖线
	series.push({
		name: 'chunk',
		type: 'line',
		xAxisIndex: i,
		yAxisIndex: i,
		data: [],
		z: 1,
		silent: true,
		markLine: {
			silent: true,
			symbol: ['none', 'none'],
			label: { show: false },
			lineStyle: { color: '#dcdcdc', width: 1, type: 'solid' },
			animation: false,
			data: chunkStarts.map(function(v) { return { xAxis: v }; })
		}
	});
	series.push({
		name: 'commanded',
		type: 'line',
		xAxisIndex: i,
		yAxisIndex: i,
		data: p.cmd,
		symbol: 'none',
		showSymbol: false,
		z: 2,
		lineStyle: { color: '#1f77b4', width: 1.4 },
		itemStyle: { color: '#1f77b4' }
	});
	series.push({
		name: 'achieved',
		type: 'line',
		xAxisIndex: i,
		yAxisIndex: i,
		data: p.ach,
		symbol: 'none',
		showSymbol: false,
		z: 3,
		lineStyle: { color: '#ff7f0e', width: 1.4, type: [6, 3] },
		itemStyle: { color: '#ff7f0e' }
	});
});

var option = {
	animation: false,
	backgroundColor: '#fff',
	textStyle: { fontFamily: FONT },
	title: {
		text: 'ReorientJugTask run0 env0 \u2014 commanded vs achieved',
		left: 'center',
		top: 27,
		padding: 0,
		textStyle: { fontSize: 16.5, fontWeight: 'normal', fontFamily: FONT, color: '#000' }
	},
	legend: {
		data: [
			{ name: 'commanded', icon: 'path://M0,0H24V1.5H0Z' },
			{ name: 'achieved', icon: 'path://M0,0H6V1.5H0Z M9,0H15V1.5H9Z M18,0H24V1.5H18Z' }
		],
		left: 953,
		top: 57,
		orient: 'horizontal',
		padding: [5, 5, 5, 6],
		itemWidth: 26,
		itemHeight: 1.5,
		itemGap: 31,
		backgroundColor: 'rgba(255,255,255,0.8)',
		borderColor: '#cccccc',
		borderWidth: 1,
		borderRadius: 3,
		textStyle: { fontSize: 12, fontFamily: FONT, color: '#000' }
	},
	grid: grids,
	xAxis: xAxes,
	yAxis: yAxes,
	series: series
};
chart.setOption(option);
</script>
</body>
</html>
